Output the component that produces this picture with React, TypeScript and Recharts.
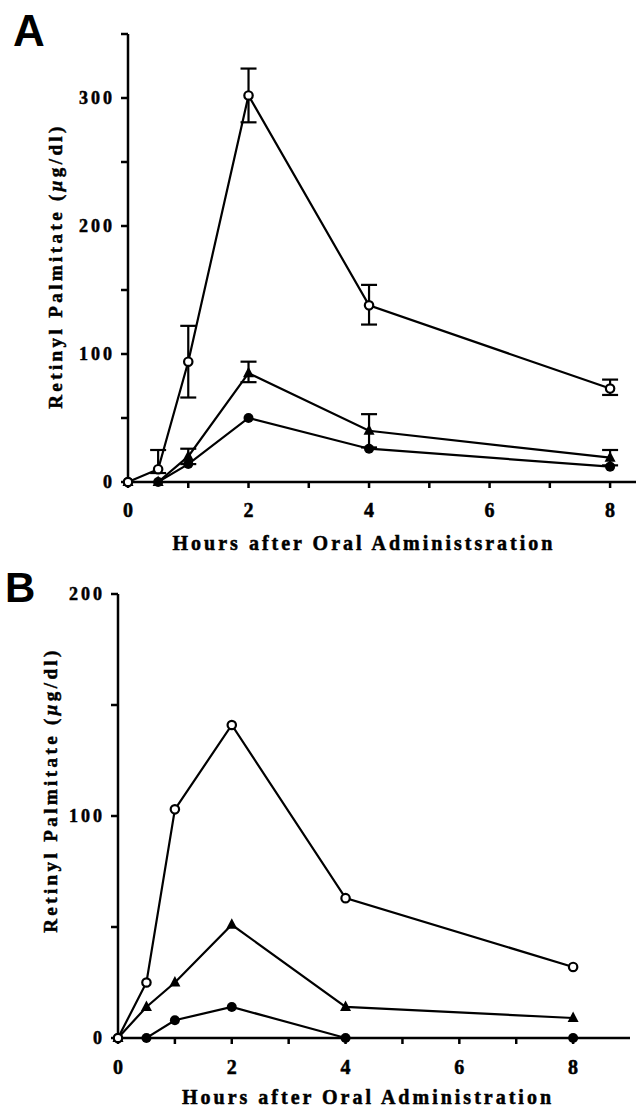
import { ErrorBar, Label, Line, LineChart, XAxis, YAxis } from "recharts";

const HOURS = [0, 0.5, 1, 2, 4, 8];

// Panel A values (µg/dl)
const A_OPEN = [0, 10, 94, 302, 138, 73];
const A_OPEN_ERR = [null, [3, 15], [28, 28], [21, 21], [15, 16], [5, 7]];
const A_TRI = [0, 0, 20, 85, 40, 19];
const A_TRI_ERR = [null, null, [6, 6], [7, 9], [13, 13], [6, 6]];
const A_FILLED = [0, 0, 14, 50, 26, 12];

// Panel B values
const B_OPEN = [0, 25, 103, 141, 63, 32];
const B_TRI = [0, 14, 25, 51, 14, 9];
const B_FILLED = [0, 0, 8, 14, 0, 0];

const X_TICKS = [0, 1, 2, 3, 4, 5, 6, 7, 8];
const A_Y_TICKS = [0, 50, 100, 150, 200, 250, 300, 350];
const B_Y_TICKS = [0, 50, 100, 150, 200];

const SERIF = "'Liberation Serif', 'Times New Roman', serif";
const SANS = "'Liberation Sans', Arial, sans-serif";

const dataA = HOURS.map((hour, i) => ({
  hour,
  open: A_OPEN[i],
  openErr: A_OPEN_ERR[i],
  tri: A_TRI[i],
  triErr: A_TRI_ERR[i],
  filled: A_FILLED[i],
}));

const dataB = HOURS.map((hour, i) => ({
  hour,
  open: B_OPEN[i],
  tri: B_TRI[i],
  filled: B_FILLED[i],
}));

const AXIS = { stroke: "#000", strokeWidth: 2.5 };
const INK = { fill: "#000", stroke: "#000", strokeWidth: 0.5 };

function OpenDot({ cx, cy }: any) {
  if (cx == null || cy == null) return null;
  return <circle cx={cx} cy={cy} r={4.2} fill="#fff" stroke="#000" strokeWidth={2.2} />;
}

function FilledDot({ cx, cy }: any) {
  if (cx == null || cy == null) return null;
  return <circle cx={cx} cy={cy} r={5} fill="#000" />;
}

function TriDot({ cx, cy }: any) {
  if (cx == null || cy == null) return null;
  return (
    <polygon
      points={`${cx},${cy - 6.5} ${cx + 5.5},${cy + 4} ${cx - 5.5},${cy + 4}`}
      fill="#000"
    />
  );
}

function YTick({ x, y, payload }: any) {
  if (payload.value % 100 !== 0) return null;
  return (
    <text
      x={x}
      y={y}
      dy="0.36em"
      textAnchor="end"
      {...INK}
      style={{ fontFamily: SERIF, fontWeight: 700, fontSize: 18, letterSpacing: 3 }}
    >
      {payload.value}
    </text>
  );
}

function XTick({ x, y, payload }: any) {
  if (payload.value % 2 !== 0) return null;
  return (
    <text
      x={x}
      y={y}
      dy="0.71em"
      textAnchor="middle"
      {...INK}
      style={{ fontFamily: SERIF, fontWeight: 700, fontSize: 20 }}
    >
      {payload.value}
    </text>
  );
}

const TITLE_STYLE = {
  fontFamily: SERIF,
  fontWeight: 700,
  fontSize: 20,
  letterSpacing: 3,
};

function YTitle({ viewBox, dx, dy }: any) {
  if (!viewBox) return null;
  const cx = viewBox.x + dx;
  const cy = viewBox.y + viewBox.height / 2 + dy;
  return (
    <text
      x={cx}
      y={cy}
      dy="0.35em"
      transform={`rotate(-90 ${cx} ${cy})`}
      textAnchor="middle"
      {...INK}
      style={{ ...TITLE_STYLE, fontSize: 19, letterSpacing: 3.4 }}
    >
      Retinyl Palmitate (<tspan fontStyle="italic">μ</tspan>g/dl)
    </text>
  );
}

function XTitle({ viewBox, dx, dy, text }: any) {
  if (!viewBox) return null;
  const cx = viewBox.x + viewBox.width / 2 + dx;
  const cy = viewBox.y + dy;
  return (
    <text x={cx} y={cy} dy="0.35em" textAnchor="middle" {...INK} style={TITLE_STYLE}>
      {text}
    </text>
  );
}

export default function App() {
  return (
    <div
      style={{
        position: "absolute",
        left: 0,
        top: 0,
        width: 636,
        height: 1107,
        background: "#fff",
        overflow: "hidden",
      }}
    >
      <div
        style={{
          position: "absolute",
          left: 13,
          top: 9,
          fontFamily: SANS,
          fontWeight: 700,
          fontSize: 44,
          lineHeight: "44px",
        }}
      >
        A
      </div>
      <div
        style={{
          position: "absolute",
          left: 5,
          top: 567,
          fontFamily: SANS,
          fontWeight: 700,
          fontSize: 42,
          lineHeight: "42px",
        }}
      >
        B
      </div>

      <div style={{ position: "absolute", left: 0, top: 0 }}>
        <LineChart
          width={636}
          height={560}
          data={dataA}
          margin={{ top: 34, right: 0, left: 0, bottom: 8 }}
        >
          <XAxis
            dataKey="hour"
            type="number"
            domain={[0, 8.43]}
            ticks={X_TICKS}
            interval={0}
            height={70}
            axisLine={AXIS}
            tickLine={AXIS}
            tickSize={6}
            tickMargin={15}
            tick={<XTick />}
          >
            <Label
              content={(p: any) => (
                <XTitle {...p} dx={-18} dy={61} text="Hours after Oral Administsration" />
              )}
            />
          </XAxis>
          <YAxis
            type="number"
            domain={[0, 350]}
            ticks={A_Y_TICKS}
            interval={0}
            width={128}
            axisLine={AXIS}
            tickLine={AXIS}
            tickSize={7}
            tickMargin={6}
            tick={<YTick />}
          >
            <Label content={(p: any) => <YTitle {...p} dx={55} dy={8} />} />
          </YAxis>
          <Line
            dataKey="filled"
            stroke="#000"
            strokeWidth={2.2}
            dot={<FilledDot />}
            activeDot={false}
            isAnimationActive={false}
          />
          <Line
            dataKey="tri"
            stroke="#000"
            strokeWidth={2.2}
            dot={<TriDot />}
            activeDot={false}
            isAnimationActive={false}
          >
            <ErrorBar
              dataKey="triErr"
              direction="y"
              width={8}
              stroke="#000"
              strokeWidth={2.2}
              isAnimationActive={false}
            />
          </Line>
          <Line
            dataKey="open"
            stroke="#000"
            strokeWidth={2.2}
            dot={<OpenDot />}
            activeDot={false}
            isAnimationActive={false}
          >
            <ErrorBar
              dataKey="openErr"
              direction="y"
              width={8}
              stroke="#000"
              strokeWidth={2.2}
              isAnimationActive={false}
            />
          </Line>
        </LineChart>
      </div>

      <div style={{ position: "absolute", left: 0, top: 560 }}>
        <LineChart
          width={636}
          height={547}
          data={dataB}
          margin={{ top: 34, right: 6, left: 0, bottom: 4 }}
        >
          <XAxis
            dataKey="hour"
            type="number"
            domain={[0, 9]}
            ticks={X_TICKS}
            interval={0}
            height={65}
            axisLine={AXIS}
            tickLine={AXIS}
            tickSize={6}
            tickMargin={16}
            tick={<XTick />}
          >
            <Label
              content={(p: any) => (
                <XTitle {...p} dx={-6} dy={59} text="Hours after Oral Administration" />
              )}
            />
          </XAxis>
          <YAxis
            type="number"
            domain={[0, 200]}
            ticks={B_Y_TICKS}
            interval={0}
            width={118}
            axisLine={AXIS}
            tickLine={AXIS}
            tickSize={7}
            tickMargin={6}
            tick={<YTick />}
          >
            <Label content={(p: any) => <YTitle {...p} dx={50} dy={-26} />} />
          </YAxis>
          <Line
            dataKey="filled"
            stroke="#000"
            strokeWidth={2.2}
            dot={<FilledDot />}
            activeDot={false}
            isAnimationActive={false}
          />
          <Line
            dataKey="tri"
            stroke="#000"
            strokeWidth={2.2}
            dot={<TriDot />}
            activeDot={false}
            isAnimationActive={false}
          />
          <Line
            dataKey="open"
            stroke="#000"
            strokeWidth={2.2}
            dot={<OpenDot />}
            activeDot={false}
            isAnimationActive={false}
          />
        </LineChart>
      </div>
    </div>
  );
}
